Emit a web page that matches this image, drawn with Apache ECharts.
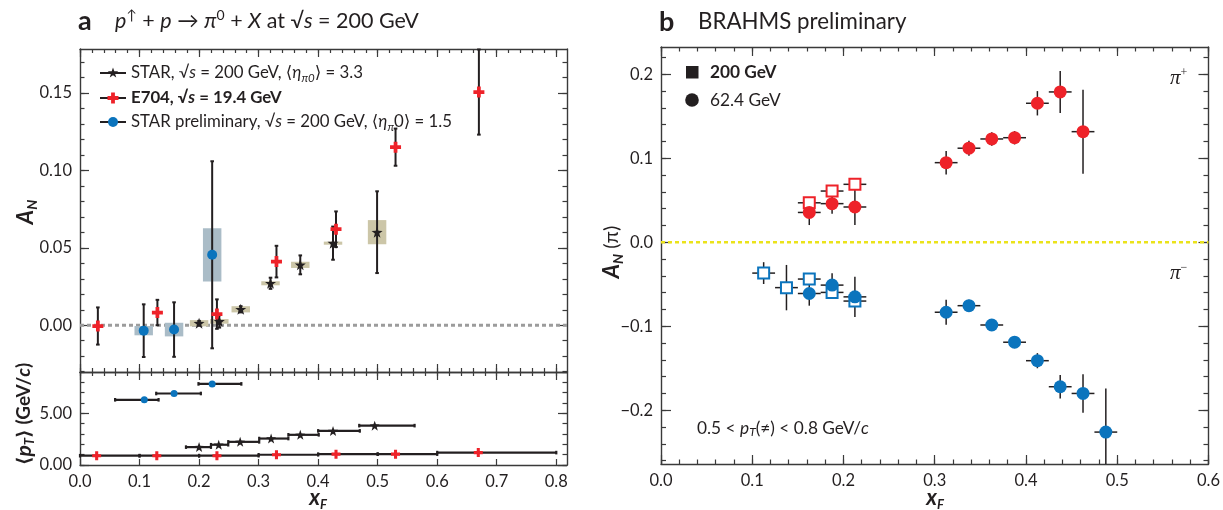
<!DOCTYPE html>
<html><head><meta charset="utf-8">
<script src="https://cdn.jsdelivr.net/npm/echarts@6/dist/echarts.min.js"></script>
<style>html,body{margin:0;padding:0;background:#fff}#c{width:1223px;height:510px}</style>
</head><body><div id="c"></div>
<script>
// ================= DATA =================
// Panel a, top: A_N vs x_F
const starX   = [0.200, 0.234, 0.270, 0.320, 0.370, 0.425, 0.499];
const starAN  = [0.0013, 0.0025, 0.0103, 0.0271, 0.0390, 0.0530, 0.0601];
const starErr = [0.0015, 0.0040, 0.0020, 0.0036, 0.0061, 0.0107, 0.0264];
const starSys = [0.0020, 0.0015, 0.0020, 0.0013, 0.0020, 0.0010, 0.0078];

const e704X   = [0.03, 0.13, 0.23, 0.33, 0.43, 0.53, 0.67];
const e704AN  = [-0.0005, 0.0082, 0.0072, 0.0411, 0.0620, 0.1150, 0.1506];
const e704Err = [0.0120, 0.0082, 0.0095, 0.0102, 0.0115, 0.0120, 0.0275];

const prelimX   = [0.107, 0.158, 0.222];
const prelimAN  = [-0.0035, -0.0028, 0.0455];
const prelimErr = [0.0170, 0.0176, 0.0604];
const prelimSys = [0.0030, 0.0044, 0.0172];

// Panel a, bottom: <pT> vs x_F (with x-bin ranges)
const prelimPtX  = [0.108, 0.158, 0.222];
const prelimPt   = [6.31, 6.92, 7.85];
const prelimPtLo = [0.059, 0.128, 0.199];
const prelimPtHi = [0.132, 0.203, 0.271];

const starPtX  = [0.200, 0.233, 0.269, 0.321, 0.370, 0.425, 0.495];
const starPt   = [1.73, 1.96, 2.24, 2.56, 2.92, 3.30, 3.81];
const starPtLo = [0.178, 0.220, 0.249, 0.301, 0.350, 0.400, 0.469];
const starPtHi = [0.220, 0.249, 0.301, 0.350, 0.401, 0.470, 0.562];

const e704PtX  = [0.028, 0.129, 0.230, 0.330, 0.430, 0.530, 0.669];
const e704Pt   = [0.90, 0.90, 0.90, 0.99, 1.05, 1.05, 1.20];
const e704PtLo = [0.0, 0.1, 0.2, 0.3, 0.4, 0.5, 0.6];
const e704PtHi = [0.1, 0.2, 0.3, 0.4, 0.5, 0.6, 0.8];

// Panel b: BRAHMS preliminary
const plus62X   = [0.1625, 0.1875, 0.2125, 0.3125, 0.3375, 0.3625, 0.3875, 0.4125, 0.4375, 0.4625];
const plus62AN  = [0.0355, 0.0460, 0.0420, 0.0948, 0.1120, 0.1230, 0.1245, 0.1655, 0.1790, 0.1317];
const plus62Err = [0.0150, 0.0120, 0.0215, 0.0140, 0.0090, 0.0080, 0.0080, 0.0145, 0.0250, 0.0500];

const plus200X   = [0.1625, 0.1875, 0.2125];
const plus200AN  = [0.0470, 0.0610, 0.0690];
const plus200Err = [0.0060, 0.0060, 0.0060];

const minus62X   = [0.1625, 0.1875, 0.2125, 0.3125, 0.3375, 0.3625, 0.3875, 0.4125, 0.4375, 0.4625, 0.4875];
const minus62AN  = [-0.0610, -0.0510, -0.0650, -0.0833, -0.0755, -0.0985, -0.1190, -0.1410, -0.1720, -0.1800, -0.2260];
const minus62Err = [0.0145, 0.0140, 0.0240, 0.0150, 0.0070, 0.0070, 0.0070, 0.0090, 0.0140, 0.0230, 0.0520];

const minus200X   = [0.1125, 0.1375, 0.1625, 0.1875, 0.2125];
const minus200AN  = [-0.0367, -0.0540, -0.0438, -0.0597, -0.0700];
const minus200Err = [0.0130, 0.0270, 0.0060, 0.0060, 0.0060];

// tick label values
const leftXTicks   = [0, 0.1, 0.2, 0.3, 0.4, 0.5, 0.6, 0.7, 0.8];
const leftANTicks  = [0, 0.05, 0.10, 0.15];
const ptTicks      = [0, 5];
const rightXTicks  = [0, 0.1, 0.2, 0.3, 0.4, 0.5, 0.6];
const rightANTicks = [-0.2, -0.1, 0, 0.1, 0.2];

// ================= STYLE / LAYOUT =================
const FONT = 'Lato, "Open Sans", "DejaVu Sans", sans-serif';
const SERIF = '"Liberation Serif", "DejaVu Serif", serif';
const INK = '#231f20', RED = '#ee2229', BLUE = '#0b74bd', FRAME = '#3a3a3a';
const BOX_BLUE = '#aabcc7', BOX_BEIGE = '#ccc6a8';
const LX_MAX = 0.818, LY_MIN = -0.0302, LY_MAX = 0.1784, PT_MAX = 9;
const RX_MAX = 0.6, RY_MIN = -0.264, RY_MAX = 0.2325;
const BOX_HALF_W = 0.0155, BIN_HALF = 0.0125;
const TICK_FS = 16.5;

function range(min, max, step) {
  const out = []; const k0 = Math.ceil(min / step - 1e-9), k1 = Math.floor(max / step + 1e-9);
  for (let k = k0; k <= k1; k++) out.push(+(k * step).toFixed(6));
  return out;
}
function axis(gridIndex, min, max, position, ticks, len, labels, fmt, showLine) {
  return {
    type: 'value', gridIndex, min, max, position,
    axisLine: { show: showLine, onZero: false, lineStyle: { color: FRAME, width: 1.4 } },
    axisTick: { show: true, inside: true, length: len, customValues: ticks, lineStyle: { color: FRAME, width: 1.2 } },
    axisLabel: labels ? { show: true, customValues: labels, formatter: fmt, margin: 8, fontSize: TICK_FS, fontFamily: FONT, color: INK } : { show: false },
    splitLine: { show: false }, minorTick: { show: false }, silent: true
  };
}
const f1 = v => (+v).toFixed(1);
const f2 = v => (+v).toFixed(2);
const fm = v => (v < -1e-9 ? '\u2212' : '') + Math.abs(+v).toFixed(1);

const xAxes = [
  axis(0, 0, LX_MAX, 'bottom', leftXTicks, 8, null, null, true),          //0
  axis(0, 0, LX_MAX, 'bottom', range(0, LX_MAX, 0.02), 4, null, null, false), //1
  axis(0, 0, LX_MAX, 'top', leftXTicks, 8, null, null, true),             //2
  axis(0, 0, LX_MAX, 'top', range(0, LX_MAX, 0.02), 4, null, null, false),    //3
  axis(1, 0, LX_MAX, 'bottom', leftXTicks, 6, leftXTicks, f1, true),      //4
  axis(1, 0, LX_MAX, 'top', leftXTicks, 8, null, null, true),             //5
  axis(1, 0, LX_MAX, 'top', range(0, LX_MAX, 0.02), 4, null, null, false),    //6
  axis(2, 0, RX_MAX, 'bottom', rightXTicks, 9, rightXTicks, f1, true),    //7
  axis(2, 0, RX_MAX, 'bottom', range(0, RX_MAX, 0.02), 4.5, null, null, false), //8
  axis(2, 0, RX_MAX, 'top', rightXTicks, 9, null, null, true),            //9
  axis(2, 0, RX_MAX, 'top', range(0, RX_MAX, 0.02), 4.5, null, null, false)   //10
];
const yAxes = [
  axis(0, LY_MIN, LY_MAX, 'left', leftANTicks, 9, leftANTicks, f2, true),  //0
  axis(0, LY_MIN, LY_MAX, 'left', range(LY_MIN, LY_MAX, 0.01), 4.5, null, null, false), //1
  axis(0, LY_MIN, LY_MAX, 'right', leftANTicks, 9, null, null, true),      //2
  axis(0, LY_MIN, LY_MAX, 'right', range(LY_MIN, LY_MAX, 0.01), 4.5, null, null, false), //3
  axis(1, 0, PT_MAX, 'left', ptTicks, 9, ptTicks, f2, true),               //4
  axis(1, 0, PT_MAX, 'left', range(0, PT_MAX, 1), 4.5, null, null, false), //5
  axis(1, 0, PT_MAX, 'right', ptTicks, 9, null, null, true),               //6
  axis(1, 0, PT_MAX, 'right', range(0, PT_MAX, 1), 4.5, null, null, false),//7
  axis(2, RY_MIN, RY_MAX, 'left', rightANTicks, 10, rightANTicks, fm, true), //8
  axis(2, RY_MIN, RY_MAX, 'left', range(RY_MIN, RY_MAX, 0.02), 5, null, null, false), //9
  axis(2, RY_MIN, RY_MAX, 'right', rightANTicks, 10, null, null, true),    //10
  axis(2, RY_MIN, RY_MAX, 'right', range(RY_MIN, RY_MAX, 0.02), 5, null, null, false) //11
];

// ---------- data row builders ----------
const rowsV  = (x, y, e) => x.map((v, i) => [v, y[i], v, v, y[i] - e[i], y[i] + e[i]]);
const rowsXY = (x, y, e, hw) => x.map((v, i) => [v, y[i], v - hw, v + hw, y[i] - e[i], y[i] + e[i]]);
const rowsH  = (x, y, lo, hi) => x.map((v, i) => [v, y[i], lo[i], hi[i], y[i], y[i]]);
const pts    = (x, y) => x.map((v, i) => [v, y[i]]);
const boxRows = (x, y, s) => x.map((v, i) => [v, y[i], BOX_HALF_W, s[i]]);

function errSeries(xi, yi, data, cap, width, z) {
  return {
    type: 'custom', xAxisIndex: xi, yAxisIndex: yi, z, silent: true, data,
    renderItem(params, api) {
      const cs = params.coordSys;
      const L = cs.x, R = cs.x + cs.width, T = cs.y, B = cs.y + cs.height;
      const clx = v => Math.min(R, Math.max(L, v)), cly = v => Math.min(B, Math.max(T, v));
      const x = api.value(0), y = api.value(1);
      const xlo = api.value(2), xhi = api.value(3), ylo = api.value(4), yhi = api.value(5);
      const p = api.coord([x, y]);
      const st = { stroke: INK, lineWidth: width };
      const kids = [];
      if (yhi > ylo) {
        const a = api.coord([x, ylo])[1], b = api.coord([x, yhi])[1];
        kids.push({ type: 'line', shape: { x1: p[0], y1: cly(a), x2: p[0], y2: cly(b) }, style: st });
        if (cap) [a, b].forEach(v => { if (v >= T && v <= B) kids.push({ type: 'line', shape: { x1: p[0] - cap, y1: v, x2: p[0] + cap, y2: v }, style: st }); });
      }
      if (xhi > xlo) {
        const a = api.coord([xlo, y])[0], b = api.coord([xhi, y])[0];
        kids.push({ type: 'line', shape: { x1: clx(a), y1: p[1], x2: clx(b), y2: p[1] }, style: st });
        if (cap) [a, b].forEach(v => { if (v >= L && v <= R) kids.push({ type: 'line', shape: { x1: v, y1: p[1] - cap, x2: v, y2: p[1] + cap }, style: st }); });
      }
      return { type: 'group', children: kids };
    }
  };
}
function boxSeries(xi, yi, data, color) {
  return {
    type: 'custom', xAxisIndex: xi, yAxisIndex: yi, z: 2, silent: true, data,
    renderItem(params, api) {
      const x = api.value(0), y = api.value(1), hw = api.value(2), hh = api.value(3);
      const a = api.coord([x - hw, y + hh]), b = api.coord([x + hw, y - hh]);
      return { type: 'rect', shape: { x: a[0], y: a[1], width: b[0] - a[0], height: Math.max(2, b[1] - a[1]) }, style: { fill: color } };
    }
  };
}
const STAR = 'path://M0,-10 L2.351,-3.236 L9.511,-3.09 L3.804,1.236 L5.878,8.09 L0,4 L-5.878,8.09 L-3.804,1.236 L-9.511,-3.09 L-2.351,-3.236 Z';
const PLUS = 'path://M-1.7,-5 L1.7,-5 L1.7,-1.7 L5,-1.7 L5,1.7 L1.7,1.7 L1.7,5 L-1.7,5 L-1.7,1.7 L-5,1.7 L-5,-1.7 L-1.7,-1.7 Z';
function markers(xi, yi, data, symbol, size, color, border, z) {
  return {
    type: 'scatter', xAxisIndex: xi, yAxisIndex: yi, z: z || 5, silent: true, data, symbol, symbolSize: size,
    itemStyle: border ? { color: '#fff', borderColor: border, borderWidth: 2, opacity: 1 } : { color, opacity: 1 }
  };
}
function zeroLine(xi, yi, xmax, color, width, dash) {
  return { type: 'line', xAxisIndex: xi, yAxisIndex: yi, z: 1, silent: true, data: [[0, 0], [xmax, 0]],
    showSymbol: false, symbol: 'none', lineStyle: { color, width, type: dash } };
}

const series = [
  // panel a top
  zeroLine(0, 0, LX_MAX, '#9c9c9c', 3, [4, 3]),
  boxSeries(0, 0, boxRows(prelimX, prelimAN, prelimSys), BOX_BLUE),
  boxSeries(0, 0, boxRows(starX, starAN, starSys), BOX_BEIGE),
  errSeries(0, 0, rowsV(e704X, e704AN, e704Err), 1.8, 2, 3),
  errSeries(0, 0, rowsV(prelimX, prelimAN, prelimErr), 1.8, 2, 3),
  errSeries(0, 0, rowsV(starX, starAN, starErr), 1.8, 2, 3),
  markers(0, 0, pts(prelimX, prelimAN), 'circle', 10, BLUE),
  markers(0, 0, pts(e704X, e704AN), PLUS, 11, RED),
  markers(0, 0, pts(starX, starAN), STAR, 11, INK),
  // panel a bottom
  errSeries(4, 4, rowsH(e704PtX, e704Pt, e704PtLo, e704PtHi), 1.8, 2.2, 3),
  errSeries(4, 4, rowsH(starPtX, starPt, starPtLo, starPtHi), 1.8, 2.2, 3),
  errSeries(4, 4, rowsH(prelimPtX, prelimPt, prelimPtLo, prelimPtHi), 1.8, 2.2, 3),
  markers(4, 4, pts(prelimPtX, prelimPt), 'circle', 7, BLUE),
  markers(4, 4, pts(starPtX, starPt), STAR, 10, INK),
  markers(4, 4, pts(e704PtX, e704Pt), PLUS, 9, RED),
  // panel b
  zeroLine(7, 8, RX_MAX, '#ebe31a', 2.6, [4, 3]),
  errSeries(7, 8, rowsXY(plus62X, plus62AN, plus62Err, BIN_HALF), 0, 1.5, 3),
  errSeries(7, 8, rowsXY(plus200X, plus200AN, plus200Err, BIN_HALF), 0, 1.5, 3),
  errSeries(7, 8, rowsXY(minus62X, minus62AN, minus62Err, BIN_HALF), 0, 1.5, 3),
  errSeries(7, 8, rowsXY(minus200X, minus200AN, minus200Err, BIN_HALF), 0, 1.5, 3),
  markers(7, 8, pts(plus200X, plus200AN), 'rect', 11, null, RED, 4),
  markers(7, 8, pts(minus200X, minus200AN), 'rect', 11, null, BLUE, 4),
  markers(7, 8, pts(plus62X, plus62AN), 'circle', 13, RED, null, 5),
  markers(7, 8, pts(minus62X, minus62AN), 'circle', 13, BLUE, null, 5)
];

// ---------- text / legend graphics ----------
const rs = (size, extra) => Object.assign({ fontSize: size, fontFamily: FONT, fill: INK }, extra || {});
function text(x, y, str, size, rich, extra) {
  return { type: 'text', x, y, z: 100, silent: true,
    style: Object.assign({ text: str, rich, fontSize: size, fontFamily: FONT, fill: INK, align: 'left', verticalAlign: 'middle' }, extra || {}) };
}
function starPts(cx, cy, R) {
  const p = [];
  for (let k = 0; k < 10; k++) { const r = k % 2 ? R * 0.4 : R; const a = -Math.PI / 2 + k * Math.PI / 5; p.push([cx + r * Math.cos(a), cy + r * Math.sin(a)]); }
  return p;
}
function plusPts(cx, cy, h, t) {
  return [[-t,-h],[t,-h],[t,-t],[h,-t],[h,t],[t,t],[t,h],[-t,h],[-t,t],[-h,t],[-h,-t],[-t,-t]].map(q => [cx + q[0], cy + q[1]]);
}
const LFS = 16.8;
const legRich = {
  i: rs(LFS, { fontStyle: 'italic', lineHeight: 22 }),
  bi: rs(LFS, { fontStyle: 'italic', fontWeight: 'bold', lineHeight: 22 }),
  sub: rs(11.5, { fontStyle: 'italic', lineHeight: 13, verticalAlign: 'bottom' }),
  n: rs(LFS, { lineHeight: 22 }),
  b: rs(LFS, { fontWeight: 'bold', lineHeight: 22 })
};
const TFS = 21.5;
const titleRich = {
  n: rs(TFS, { lineHeight: 26 }),
  i: rs(TFS, { fontStyle: 'italic', lineHeight: 26 }),
  sup: rs(14, { lineHeight: 14, verticalAlign: 'top' })
};
const axTitle = (fs, sub) => ({
  a: rs(fs, { fontStyle: 'italic', fontWeight: 'bold', lineHeight: fs + 4 }),
  s: rs(sub, { fontStyle: 'italic', fontWeight: 'bold', lineHeight: sub + 1, verticalAlign: 'bottom' }),
  n: rs(fs - 2, { lineHeight: fs + 4 }),
  b: rs(fs - 2, { fontWeight: 'bold', lineHeight: fs + 4 }),
  i: rs(fs - 2, { fontWeight: 'bold', fontStyle: 'italic', lineHeight: fs + 4 })
});
const graphics = [
  text(78, 21, 'a', 27, null, { fontWeight: 'bold' }),
  text(115, 21, '{i|p}{sup|\u2191}{n| + }{i|p}{n| \u2192 }{i|\u03c0}{sup|0}{n| + }{i|X}{n| at \u221a}{i|s}{n| = 200 GeV}', TFS, titleRich),
  text(659, 22, 'b', 27, null, { fontWeight: 'bold' }),
  text(698, 22, 'BRAHMS preliminary', 22.3),
  // left legend
  { type: 'line', silent: true, z: 100, shape: { x1: 100, y1: 73, x2: 126, y2: 73 }, style: { stroke: INK, lineWidth: 2 } },
  { type: 'polygon', silent: true, z: 101, shape: { points: starPts(113, 73, 5.5) }, style: { fill: INK } },
  text(131, 73, '{n|STAR, \u221a}{i|s}{n| = 200 GeV, \u27e8}{i|\u03b7}{sub|\u03c00}{n|\u27e9 = 3.3}', LFS, legRich),
  { type: 'line', silent: true, z: 100, shape: { x1: 100, y1: 98, x2: 126, y2: 98 }, style: { stroke: INK, lineWidth: 2 } },
  { type: 'polygon', silent: true, z: 101, shape: { points: plusPts(113, 98, 5.5, 1.9) }, style: { fill: RED } },
  text(131, 98, '{b|E704, \u221a}{bi|s}{b| = 19.4 GeV}', LFS, legRich),
  { type: 'line', silent: true, z: 100, shape: { x1: 100, y1: 122, x2: 126, y2: 122 }, style: { stroke: INK, lineWidth: 2 } },
  { type: 'circle', silent: true, z: 101, shape: { cx: 113, cy: 122, r: 5 }, style: { fill: BLUE } },
  text(131, 122, '{n|STAR preliminary, \u221a}{i|s}{n| = 200 GeV, \u27e8}{i|\u03b7}{sub|\u03c0}{n|0\u27e9 = 1.5}', LFS, legRich),
  // right legend
  { type: 'rect', silent: true, z: 100, shape: { x: 686, y: 66, width: 12.5, height: 12.5 }, style: { fill: INK } },
  text(710, 72, '200 GeV', 17.3, null, { fontWeight: 'bold' }),
  { type: 'circle', silent: true, z: 100, shape: { cx: 692, cy: 100, r: 6.8 }, style: { fill: INK } },
  text(710, 100, '62.4 GeV', 17.3),
  // pi labels
  text(1170, 78, '{p|\u03c0}{s|+}', 21, { p: { fontSize: 21, fontFamily: SERIF, fontStyle: 'italic', fill: INK, lineHeight: 22 }, s: { fontSize: 12, fontFamily: SERIF, fill: INK, lineHeight: 11, verticalAlign: 'top' } }),
  text(1170, 273, '{p|\u03c0}{s|\u2212}', 21, { p: { fontSize: 21, fontFamily: SERIF, fontStyle: 'italic', fill: INK, lineHeight: 22 }, s: { fontSize: 12, fontFamily: SERIF, fill: INK, lineHeight: 11, verticalAlign: 'top' } }),
  // pT cut annotation
  text(697, 428, '{n|0.5 < }{i|p}{s|T}{n|(\u2260) < 0.8 GeV/}{i|c}', 17.3, {
    n: rs(17.3, { lineHeight: 21 }), i: rs(17.3, { fontStyle: 'italic', lineHeight: 21 }),
    s: rs(12, { fontStyle: 'italic', lineHeight: 13, verticalAlign: 'bottom' }) }),
  // axis titles (rotated below)
  text(26, 212, '{a|A}{s|N}', 22, axTitle(22, 14), { align: 'center' }),
  text(24, 414, '{b|\u27e8}{a|p}{s|T}{b|\u27e9 (GeV/}{i|c}{b|)}', 20, axTitle(21, 13), { align: 'center' }),
  text(612, 252, '{a|A}{s|N}{n| (\u03c0)}', 22, axTitle(22, 14), { align: 'center' }),
  text(318, 498, '{a|x}{s|F}', 22, axTitle(22, 13), { align: 'center' }),
  text(935, 498, '{a|x}{s|F}', 22, axTitle(22, 13), { align: 'center' })
];
[graphics.length - 5, graphics.length - 4, graphics.length - 3].forEach(i => { graphics[i].rotation = Math.PI / 2; });

const chart = echarts.init(document.getElementById('c'), null, { renderer: 'canvas' });
chart.setOption({
  animation: false,
  backgroundColor: '#ffffff',
  grid: [
    { left: 80, top: 49, width: 487, height: 323 },
    { left: 80, top: 372, width: 487, height: 93 },
    { left: 661, top: 47, width: 549, height: 417 }
  ],
  xAxis: xAxes,
  yAxis: yAxes,
  series,
  graphic: graphics
});
</script></body></html>
